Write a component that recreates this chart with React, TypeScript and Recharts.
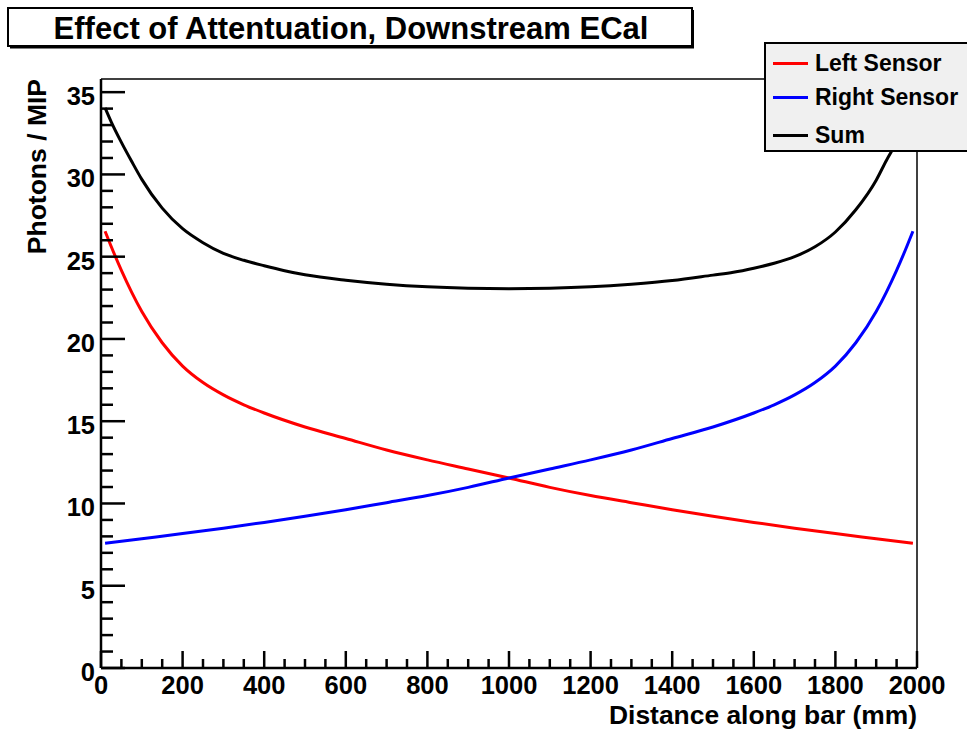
import React from 'react';
import { LineChart, Line, XAxis, YAxis, Legend } from 'recharts';

// ---- data ----
const leftX = [10, 25, 50, 75, 100, 150, 200, 250, 300, 350, 400, 500, 600, 700, 800, 900, 1000, 1100, 1200, 1300, 1400, 1500, 1600, 1700, 1800, 1900, 1990];
const leftY = [26.55, 25.62, 24.17, 22.85, 21.67, 19.77, 18.35, 17.35, 16.6, 16.0, 15.5, 14.65, 13.95, 13.25, 12.65, 12.1, 11.55, 10.98, 10.48, 10.05, 9.62, 9.22, 8.85, 8.5, 8.17, 7.86, 7.58];

const rightX = [10, 100, 200, 300, 400, 500, 600, 700, 800, 900, 1000, 1100, 1200, 1300, 1400, 1500, 1600, 1650, 1700, 1750, 1800, 1850, 1900, 1925, 1950, 1975, 1990];
const rightY = [7.58, 7.86, 8.17, 8.5, 8.85, 9.22, 9.62, 10.05, 10.48, 10.98, 11.55, 12.1, 12.65, 13.25, 13.95, 14.65, 15.5, 16.0, 16.6, 17.35, 18.35, 19.77, 21.67, 22.85, 24.17, 25.62, 26.55];

const sumX = [10, 25, 50, 75, 100, 150, 200, 250, 300, 350, 400, 450, 500, 600, 700, 800, 900, 1000, 1100, 1200, 1300, 1400, 1500, 1550, 1600, 1650, 1700, 1750, 1800, 1850, 1900, 1925, 1950, 1975, 1990];
const sumY = [34.05, 33.2, 31.95, 30.8, 29.7, 27.95, 26.7, 25.85, 25.2, 24.78, 24.45, 24.15, 23.9, 23.57, 23.33, 23.17, 23.08, 23.05, 23.08, 23.17, 23.33, 23.55, 23.88, 24.05, 24.3, 24.6, 25.0, 25.6, 26.5, 27.85, 29.65, 30.85, 31.95, 33.2, 34.05];

const xTickValues = Array.from({ length: 41 }, (_, i) => i * 50);
const yTickValues = Array.from({ length: 36 }, (_, i) => i);
const xMajorLabels = ['0', '200', '400', '600', '800', '1000', '1200', '1400', '1600', '1800', '2000'];
const yMajorLabels = ['0', '5', '10', '15', '20', '25', '30', '35'];

const chartTitle = 'Effect of Attentuation, Downstream ECal';
const xTitle = 'Distance along bar (mm)';
const yTitle = 'Photons / MIP';

const toRows = (xs: number[], ys: number[]) => xs.map((x, i) => ({ x, y: ys[i] }));

const series = [
  { name: 'Left Sensor', color: '#ff0000', data: toRows(leftX, leftY) },
  { name: 'Right Sensor', color: '#0000ff', data: toRows(rightX, rightY) },
  { name: 'Sum', color: '#000000', data: toRows(sumX, sumY) },
];

const FONT = '"Liberation Sans", Arial, Helvetica, sans-serif';
const W = 967;
const H = 729;

const XTick = (props: any) => {
  const { x, y, payload } = props;
  const v = payload.value as number;
  const major = v % 200 === 0;
  const label = xMajorLabels.find((l) => Number(l) === v);
  return (
    <g>
      <line x1={x} x2={x} y1={y} y2={y - (major ? 17 : 9)} stroke="#000" strokeWidth={2.5} />
      {major && label !== undefined && (
        <text x={x} y={y + 26} textAnchor="middle" fontFamily={FONT} fontWeight="bold" fontSize={25.5} fill="#000">
          {label}
        </text>
      )}
    </g>
  );
};

const YTick = (props: any) => {
  const { x, y, payload } = props;
  const v = payload.value as number;
  const major = v % 5 === 0;
  const label = yMajorLabels.find((l) => Number(l) === v);
  return (
    <g>
      <line x1={x} x2={x + (major ? 24 : 12)} y1={y} y2={y} stroke="#000" strokeWidth={2.5} />
      {major && label !== undefined && (
        <text x={x - 6} y={y + 13} textAnchor="end" fontFamily={FONT} fontWeight="bold" fontSize={25.5} fill="#000">
          {label}
        </text>
      )}
    </g>
  );
};

const rowCenters = [21, 55, 93];

const LegendBox = (props: any) => {
  const payload = (props.payload || []) as any[];
  return (
    <div
      style={{
        position: 'relative',
        width: 203,
        height: 110,
        background: '#f0f0f0',
        borderTop: '2px solid #000',
        borderLeft: '2px solid #000',
        borderBottom: '2.5px solid #000',
        boxSizing: 'border-box',
      }}
    >
      {payload.map((p, i) => (
        <div
          key={p.value}
          style={{
            position: 'absolute',
            left: 7,
            top: rowCenters[i] - 13 - 2,
            height: 26,
            display: 'flex',
            alignItems: 'center',
            whiteSpace: 'nowrap',
          }}
        >
          <span style={{ display: 'inline-block', width: 35, height: 3, background: p.color }} />
          <span
            style={{
              marginLeft: 7,
              fontFamily: FONT,
              fontWeight: 'bold',
              fontSize: 23,
              color: '#000',
              lineHeight: '26px',
            }}
          >
            {p.value}
          </span>
        </div>
      ))}
    </div>
  );
};

export default function App() {
  return (
    <div style={{ position: 'absolute', left: 0, top: 0, width: W, height: H, background: '#fff', overflow: 'hidden' }}>
      <LineChart width={W} height={H} margin={{ top: 78, right: 49, bottom: 60, left: 100 }}>
        <XAxis
          type="number"
          dataKey="x"
          domain={[0, 2000]}
          ticks={xTickValues}
          interval={0}
          height={1}
          tickSize={0}
          tickMargin={0}
          tickLine={false}
          tick={(p: any) => <XTick {...p} />}
          axisLine={{ stroke: '#000', strokeWidth: 2.5 }}
          allowDataOverflow
        />
        <XAxis
          xAxisId="top"
          orientation="top"
          type="number"
          domain={[0, 2000]}
          height={1}
          tick={false}
          tickLine={false}
          axisLine={{ stroke: '#000', strokeWidth: 1.5 }}
        />
        <YAxis
          type="number"
          domain={[0, 35.8]}
          ticks={yTickValues}
          interval={0}
          width={1}
          tickSize={0}
          tickMargin={0}
          tickLine={false}
          tick={(p: any) => <YTick {...p} />}
          axisLine={{ stroke: '#000', strokeWidth: 2.5 }}
          allowDataOverflow
        />
        <YAxis
          yAxisId="right"
          orientation="right"
          type="number"
          domain={[0, 35.8]}
          width={1}
          tick={false}
          tickLine={false}
          axisLine={{ stroke: '#000', strokeWidth: 1.5 }}
        />
        {series.map((s) => (
          <Line
            key={s.name}
            data={s.data}
            dataKey="y"
            name={s.name}
            stroke={s.color}
            strokeWidth={3}
            dot={false}
            activeDot={false}
            type="monotone"
            isAnimationActive={false}
          />
        ))}
        <Legend
          layout="horizontal"
          verticalAlign="middle"
          align="center"
          content={(p: any) => <LegendBox {...p} />}
          wrapperStyle={{ left: 764, top: 42, width: 203, height: 110 }}
        />
      </LineChart>
      <svg
        width={W}
        height={H}
        style={{ position: 'absolute', left: 0, top: 0, pointerEvents: 'none' }}
      >
        <line x1={10} x2={694} y1={47.5} y2={47.5} stroke="#000" strokeWidth={2} />
        <line x1={693} x2={693} y1={10} y2={48} stroke="#000" strokeWidth={2} />
        <rect x={8} y={8} width={684} height={38} fill="#fff" stroke="#000" strokeWidth={2} />
        <text x={351} y={38.5} textAnchor="middle" fontFamily={FONT} fontWeight="bold" fontSize={31} fill="#000">
          {chartTitle}
        </text>
        <text x={917} y={724} textAnchor="end" fontFamily={FONT} fontWeight="bold" fontSize={26.4} fill="#000">
          {xTitle}
        </text>
        <text
          x={46}
          y={79}
          textAnchor="end"
          transform="rotate(-90 46 79)"
          fontFamily={FONT}
          fontWeight="bold"
          fontSize={26.5}
          fill="#000"
        >
          {yTitle}
        </text>
      </svg>
    </div>
  );
}
